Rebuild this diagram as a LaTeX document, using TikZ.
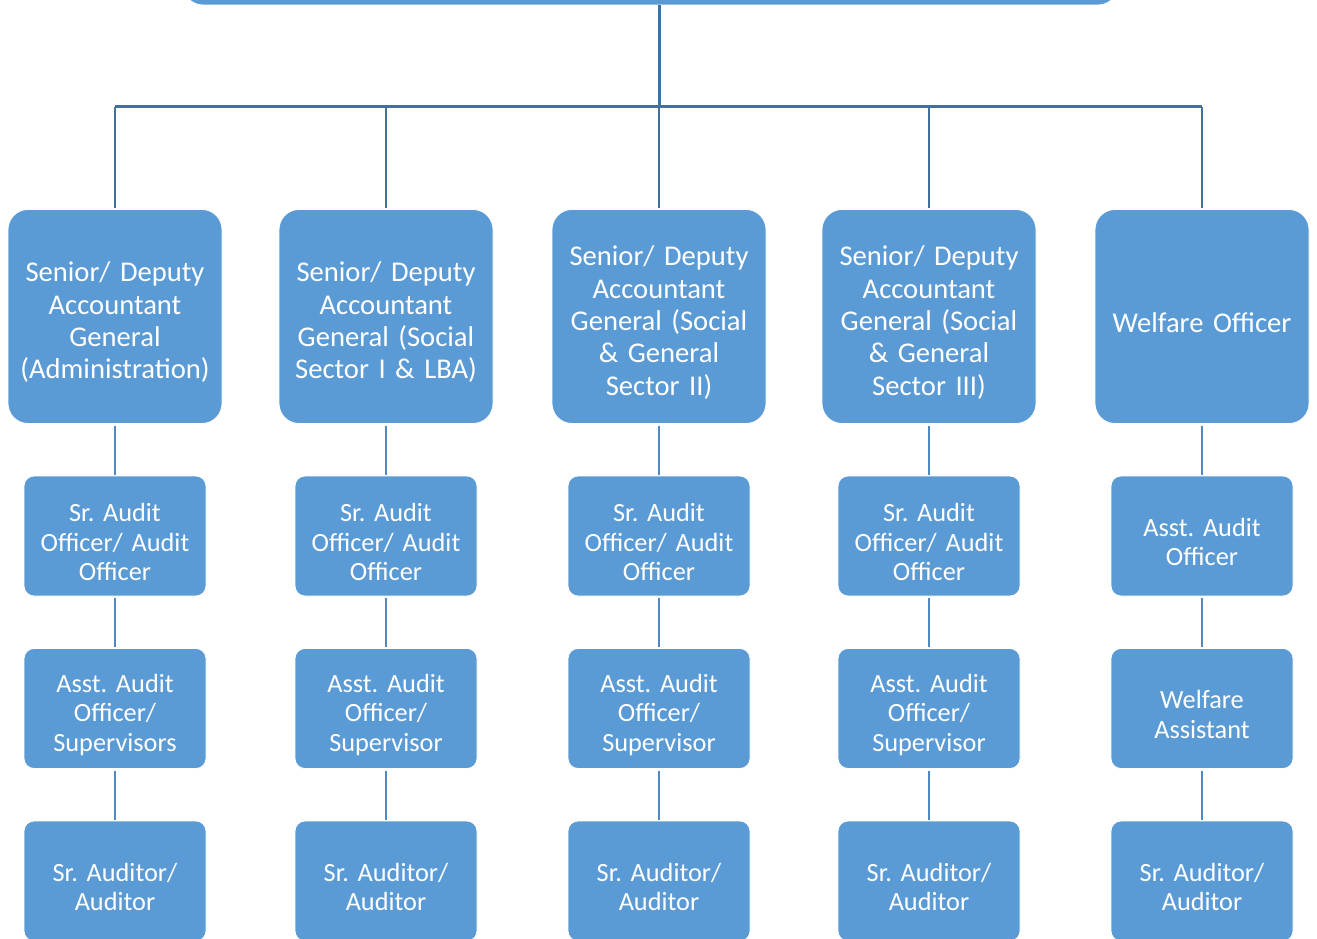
\documentclass[tikz,border=0pt]{standalone}
\usepackage{fontspec}
\setmainfont{Carlito}
\frenchspacing
\definecolor{boxblue}{HTML}{5B9BD5}
\definecolor{trunkblue}{HTML}{41719C}
\definecolor{linkblue}{HTML}{4F89C5}
\newcommand\orgbox[4]{%
  \node[#1] (#2) at (#3) {};
  \node[#1 text] (#2t) at ([yshift=-6pt]#2.center) {#4};}
\begin{document}
\begin{tikzpicture}[x=1pt,y=-1pt,
  base/.style={fill=boxblue,draw=white,line width=0.8pt,inner sep=0pt},
  basetext/.style={text=white,align=center,inner sep=0pt},
  topbox/.style={base,minimum width=935pt,minimum height=70pt,rounded corners=20pt},
  headbox/.style={base,minimum width=214pt,minimum height=214pt,rounded corners=20pt},
  headbox text/.style={basetext,text width=210pt,font=\fontsize{28.6}{32.3}\selectfont},
  smallbox/.style={base,minimum width=182pt,minimum height=120pt,rounded corners=10pt},
  smallbox text/.style={basetext,text width=180pt,font=\fontsize{26.3}{29.5}\selectfont},
  trunk/.style={draw=trunkblue,line width=3pt},
  drop/.style={draw=trunkblue,line width=2.2pt},
  link/.style={draw=linkblue,line width=2pt}]
\useasboundingbox (0,0) rectangle (1317,939);
\clip (0,0) rectangle (1317,939);
\node[topbox] (top) at (650.5,-30) {};
% level 1
\orgbox{headbox}{a1}{115,316.5}{Senior/ Deputy\\Accountant\\General\\(Administration)}
\orgbox{headbox}{a2}{386,316.5}{Senior/ Deputy\\Accountant\\General (Social\\Sector I \& LBA)}
\orgbox{headbox}{a3}{659,316.5}{Senior/ Deputy\\Accountant\\General (Social\\\& General\\Sector II)}
\orgbox{headbox}{a4}{929,316.5}{Senior/ Deputy\\Accountant\\General (Social\\\& General\\Sector III)}
\orgbox{headbox}{a5}{1202,316.5}{Welfare Officer}
% level 2
\orgbox{smallbox}{b1}{115,536}{Sr. Audit\\Officer/ Audit\\Officer}
\orgbox{smallbox}{b2}{386,536}{Sr. Audit\\Officer/ Audit\\Officer}
\orgbox{smallbox}{b3}{659,536}{Sr. Audit\\Officer/ Audit\\Officer}
\orgbox{smallbox}{b4}{929,536}{Sr. Audit\\Officer/ Audit\\Officer}
\orgbox{smallbox}{b5}{1202,536}{Asst. Audit\\Officer}
% level 3
\orgbox{smallbox}{c1}{115,708.5}{Asst. Audit\\Officer/\\Supervisors}
\orgbox{smallbox}{c2}{386,708.5}{Asst. Audit\\Officer/\\Supervisor}
\orgbox{smallbox}{c3}{659,708.5}{Asst. Audit\\Officer/\\Supervisor}
\orgbox{smallbox}{c4}{929,708.5}{Asst. Audit\\Officer/\\Supervisor}
\orgbox{smallbox}{c5}{1202,708.5}{Welfare\\Assistant}
% level 4
\orgbox{smallbox}{d1}{115,881}{Sr. Auditor/\\Auditor}
\orgbox{smallbox}{d2}{386,881}{Sr. Auditor/\\Auditor}
\orgbox{smallbox}{d3}{659,881}{Sr. Auditor/\\Auditor}
\orgbox{smallbox}{d4}{929,881}{Sr. Auditor/\\Auditor}
\orgbox{smallbox}{d5}{1202,881}{Sr. Auditor/\\Auditor}
% connectors
\coordinate (bar) at (659,107);
\draw[trunk] (top.south -| a3) -- (bar);
\draw[trunk] (a1.north |- bar) -- (a5.north |- bar);
\foreach \i in {1,...,5}{
  \draw[drop] (a\i.north |- bar) -- ([yshift=1pt]a\i.north);
  \draw[link] ([yshift=-2pt]a\i.south) -- ([yshift=1pt]b\i.north);
  \draw[link] ([yshift=-2pt]b\i.south) -- ([yshift=1pt]c\i.north);
  \draw[link] ([yshift=-2pt]c\i.south) -- ([yshift=1pt]d\i.north);
}
\end{tikzpicture}
\end{document}
